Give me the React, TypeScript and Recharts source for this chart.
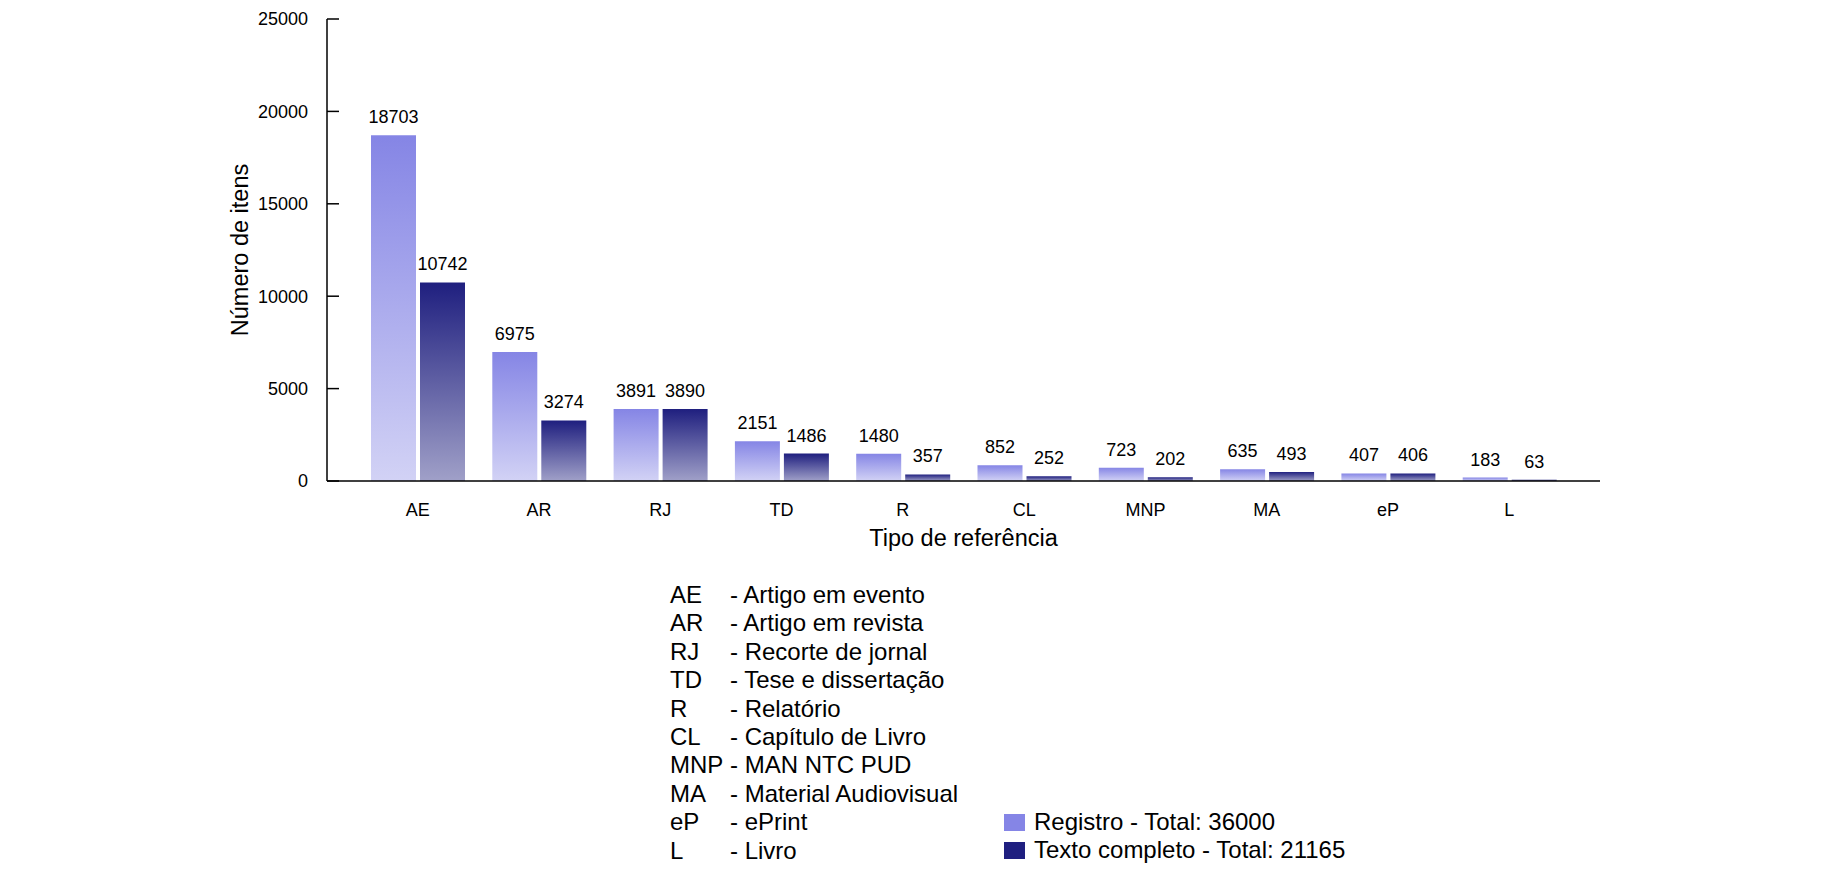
import React from "react";
import { Bar, BarChart, LabelList, XAxis, YAxis } from "recharts";

const categories = ["AE", "AR", "RJ", "TD", "R", "CL", "MNP", "MA", "eP", "L"];
const registro = [18703, 6975, 3891, 2151, 1480, 852, 723, 635, 407, 183];
const textoCompleto = [10742, 3274, 3890, 1486, 357, 252, 202, 493, 406, 63];
const yTicks = [0, 5000, 10000, 15000, 20000, 25000];

const siglas = ["AE", "AR", "RJ", "TD", "R", "CL", "MNP", "MA", "eP", "L"];
const descricoes = [
  "- Artigo em evento",
  "- Artigo em revista",
  "- Recorte de jornal",
  "- Tese e dissertação",
  "- Relatório",
  "- Capítulo de Livro",
  "- MAN NTC PUD",
  "- Material Audiovisual",
  "- ePrint",
  "- Livro",
];
const seriesNames = ["Registro - Total: 36000", "Texto completo - Total: 21165"];
const seriesColors = ["#8585e6", "#1f1f80"];

const data = categories.map((c, i) => ({
  tipo: c,
  registro: registro[i],
  texto: textoCompleto[i],
}));

const FONT = "'Liberation Sans', Arial, Helvetica, sans-serif";

// y ticks point inward (into the plot), label sits left of the axis
function YTick(props: any) {
  const { x, y, payload } = props;
  return (
    <g>
      <line x1={x + 19} y1={y} x2={x + 31} y2={y} stroke="#000" strokeWidth={1.5} />
      <text x={x} y={y} dy="0.35em" textAnchor="end" fontSize={18} fontFamily={FONT} fill="#000">
        {payload.value}
      </text>
    </g>
  );
}

export default function App() {
  return (
    <div style={{ position: "absolute", left: 0, top: 0, width: 1826, height: 876, background: "#fff" }}>
      <BarChart
        width={1826}
        height={876}
        data={data}
        margin={{ top: 19, right: 226, bottom: 0, left: 0 }}
        barSize={45}
        barGap={4}
      >
        <defs>
          <linearGradient id="gradRegistro" x1="0" y1="0" x2="0" y2="1">
            <stop offset="0%" stopColor="#8585e5" />
            <stop offset="100%" stopColor="#d2d2f5" />
          </linearGradient>
          <linearGradient id="gradTexto" x1="0" y1="0" x2="0" y2="1">
            <stop offset="0%" stopColor="#1f1f7f" />
            <stop offset="100%" stopColor="#a0a0c8" />
          </linearGradient>
        </defs>
        <XAxis
          dataKey="tipo"
          height={395}
          tickLine={false}
          tickSize={0}
          tickMargin={22}
          padding={{ left: 30, right: 30 }}
          axisLine={{ stroke: "#000", strokeWidth: 1.5 }}
          tick={{ fontSize: 18, fontFamily: FONT, fill: "#000" }}
          label={{
            value: "Tipo de referência",
            position: "insideTop",
            offset: 48,
            fontSize: 23.5,
            fontFamily: FONT,
            fill: "#000",
          }}
        />
        <YAxis
          width={327}
          domain={[0, 25000]}
          ticks={yTicks}
          interval={0}
          tickLine={false}
          tickSize={10}
          tickMargin={9}
          axisLine={{ stroke: "#000", strokeWidth: 1.5 }}
          tick={<YTick />}
          label={{
            value: "Número de itens",
            angle: -90,
            position: "center",
            dx: 76,
            fontSize: 23.5,
            fontFamily: FONT,
            fill: "#000",
          }}
        />
        <Bar dataKey="registro" fill="url(#gradRegistro)" isAnimationActive={false}>
          <LabelList dataKey="registro" position="top" offset={12} fontSize={18} fontFamily={FONT} fill="#000" />
        </Bar>
        <Bar dataKey="texto" fill="url(#gradTexto)" isAnimationActive={false}>
          <LabelList dataKey="texto" position="top" offset={12} fontSize={18} fontFamily={FONT} fill="#000" />
        </Bar>
      </BarChart>

      <div style={{ position: "absolute", left: 670, top: 581, fontFamily: FONT, fontSize: 24, lineHeight: "28.4px", color: "#000" }}>
        {siglas.map((s, i) => (
          <div key={s} style={{ display: "flex", whiteSpace: "nowrap" }}>
            <span style={{ width: 60, display: "inline-block" }}>{s}</span>
            <span>{descricoes[i]}</span>
          </div>
        ))}
      </div>

      <div style={{ position: "absolute", left: 1004, top: 808, fontFamily: FONT, fontSize: 24, lineHeight: "28.4px", color: "#000" }}>
        {seriesNames.map((n, i) => (
          <div key={n} style={{ display: "flex", alignItems: "center", whiteSpace: "nowrap" }}>
            <span style={{ width: 21, height: 17, background: seriesColors[i], display: "inline-block", marginRight: 9 }} />
            <span>{n}</span>
          </div>
        ))}
      </div>
    </div>
  );
}
